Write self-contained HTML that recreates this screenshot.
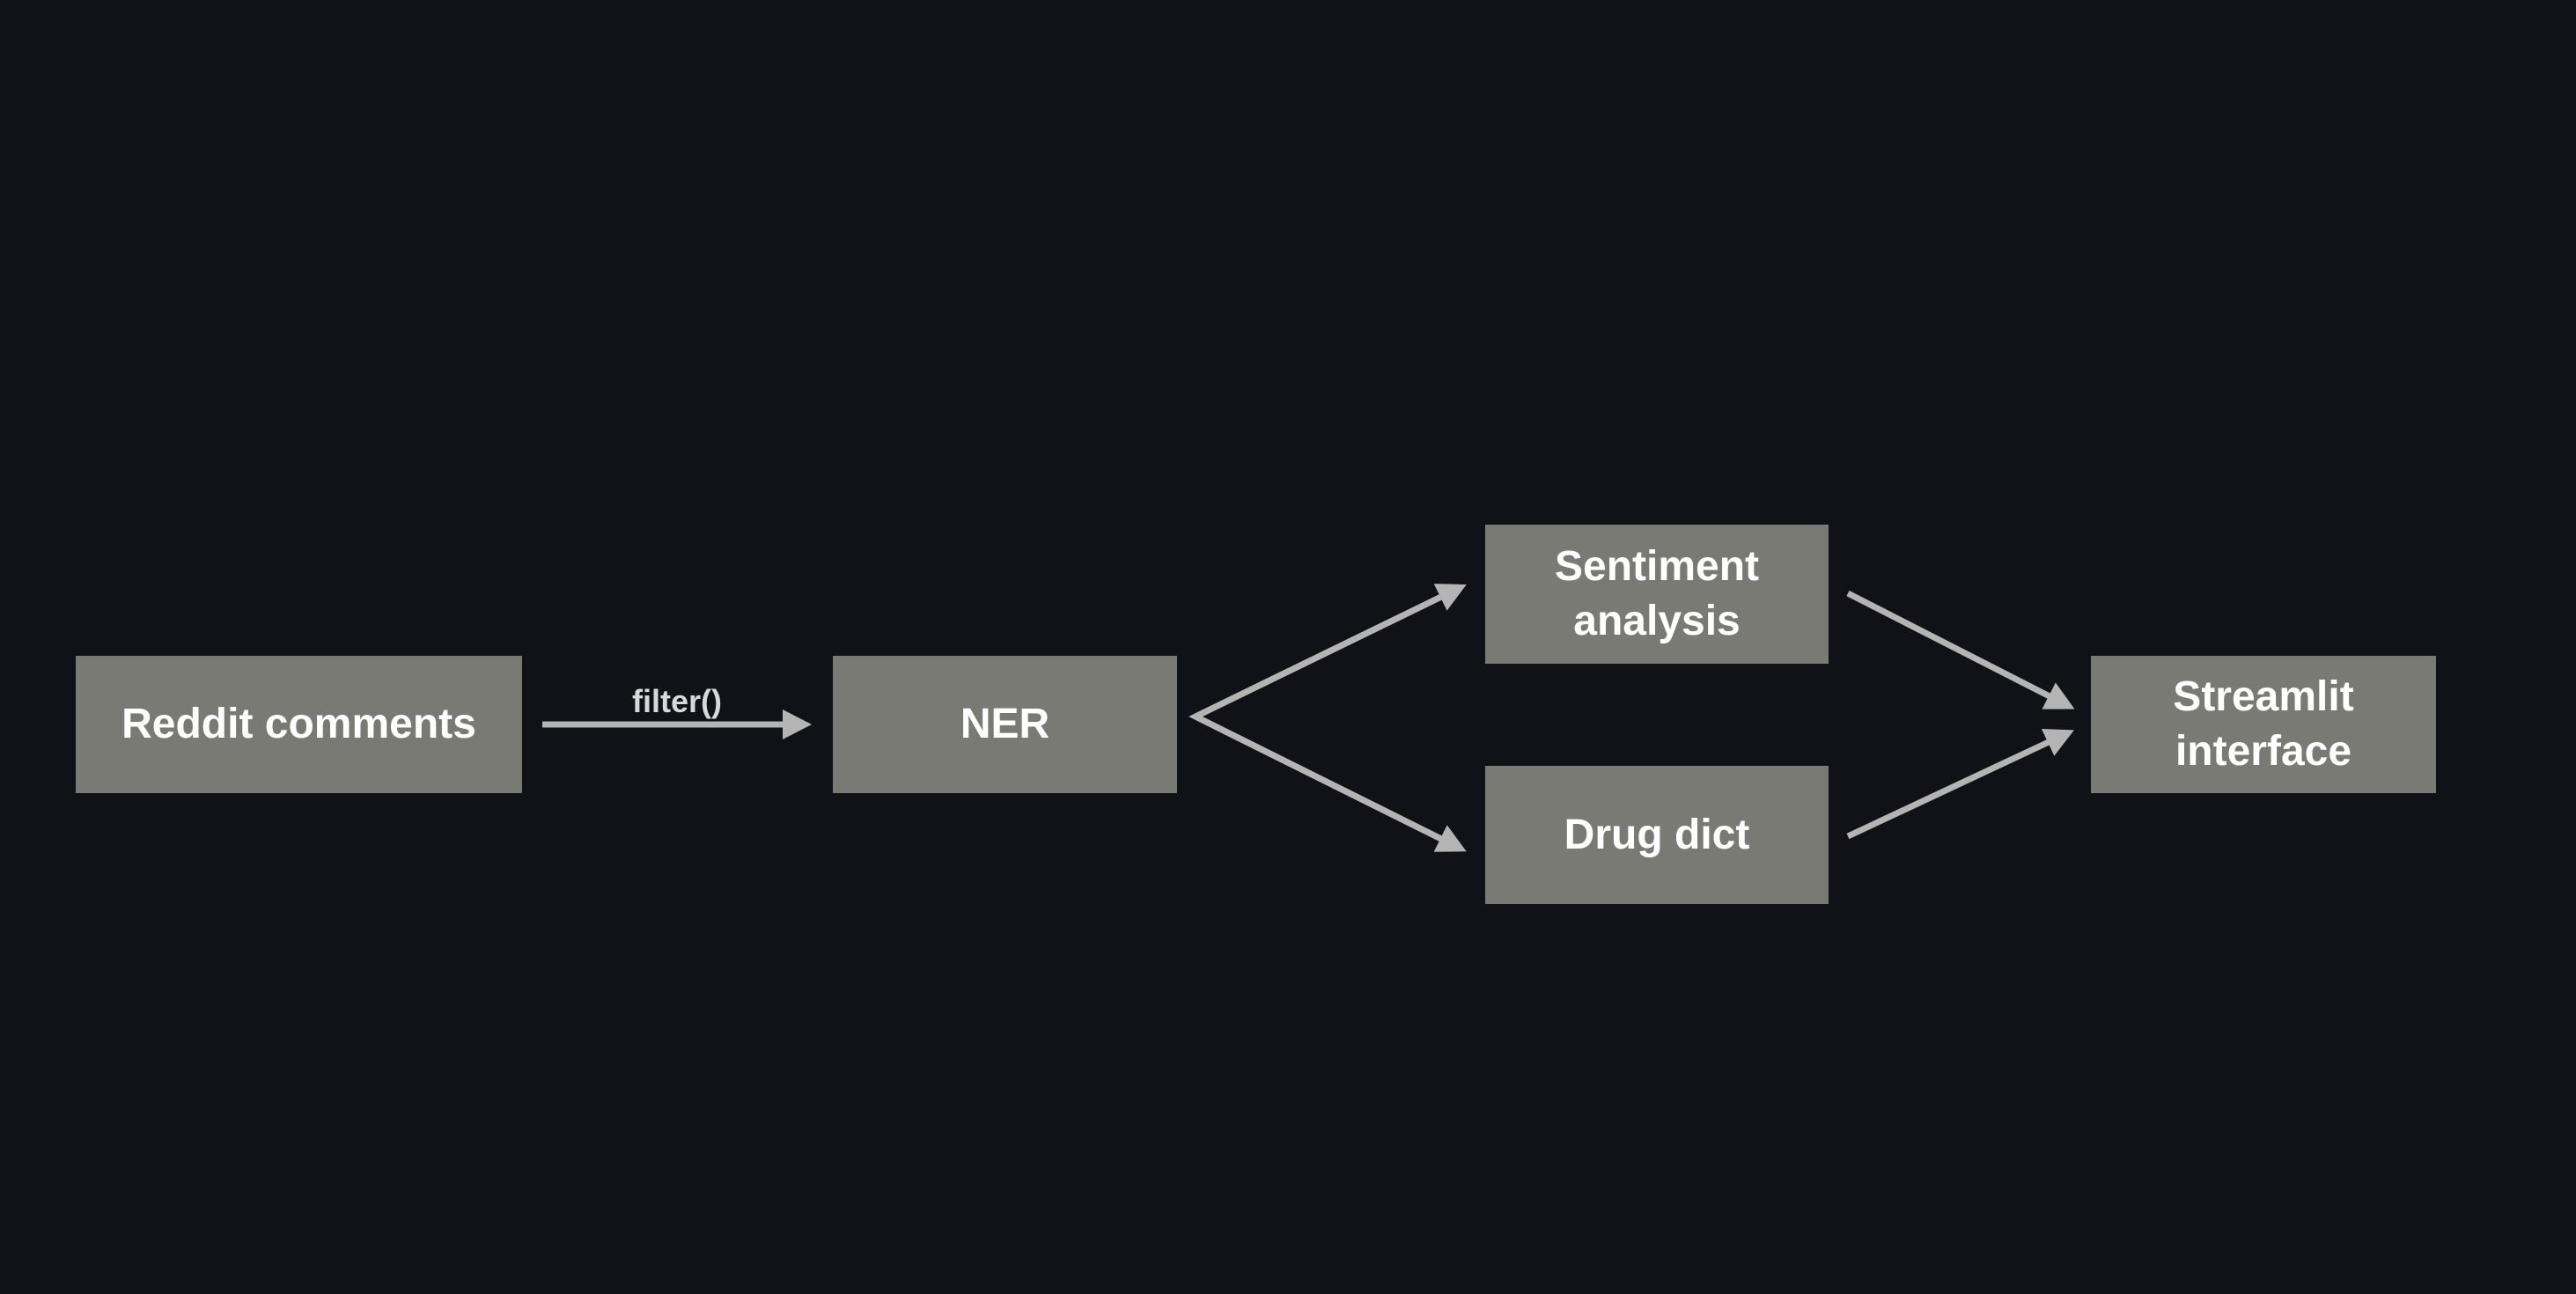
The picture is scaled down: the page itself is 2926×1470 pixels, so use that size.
<!DOCTYPE html>
<html><head><meta charset="utf-8"><style>
html,body{margin:0;padding:0;background:#111217;}
body{width:2926px;height:1470px;position:relative;overflow:hidden;font-family:"Liberation Sans",sans-serif;}
.b{position:absolute;background:#7a7a74;color:#fff;font-weight:bold;font-size:48px;display:flex;align-items:center;justify-content:center;text-align:center;line-height:62px;}
</style></head><body>
<div class="b" style="left:86px;top:745px;width:507px;height:156px;">Reddit comments</div>
<div class="b" style="left:946px;top:745px;width:391px;height:156px;">NER</div>
<div class="b" style="left:1687px;top:596px;width:390px;height:158px;">Sentiment<br>analysis</div>
<div class="b" style="left:1687px;top:870px;width:390px;height:157px;">Drug dict</div>
<div class="b" style="left:2375px;top:745px;width:392px;height:156px;">Streamlit<br>interface</div>
<svg width="2926" height="1470" style="position:absolute;left:0;top:0">
<defs><marker id="a" markerUnits="userSpaceOnUse" markerWidth="34" markerHeight="34" refX="1" refY="17" orient="auto"><path d="M0,0 L33,17 L0,34 Z" fill="#b4b4b4"/></marker></defs>
<g stroke="#b4b4b4" stroke-width="7" fill="none">
<line x1="616" y1="823" x2="890" y2="823" marker-end="url(#a)"/>
<polyline points="1637,678 1358,814 1637,953" stroke-linejoin="miter"/>
<line x1="1358" y1="814" x2="1637" y2="678" marker-end="url(#a)"/>
<line x1="1358" y1="814" x2="1637" y2="953" marker-end="url(#a)"/>
<line x1="2099" y1="674" x2="2328" y2="791" marker-end="url(#a)"/>
<line x1="2099" y1="950" x2="2327" y2="843" marker-end="url(#a)"/>
</g>
<text x="769" y="809" fill="#d8d8d8" font-family="Liberation Sans, sans-serif" font-weight="bold" font-size="36" text-anchor="middle">filter()</text>
</svg>
</body></html>
